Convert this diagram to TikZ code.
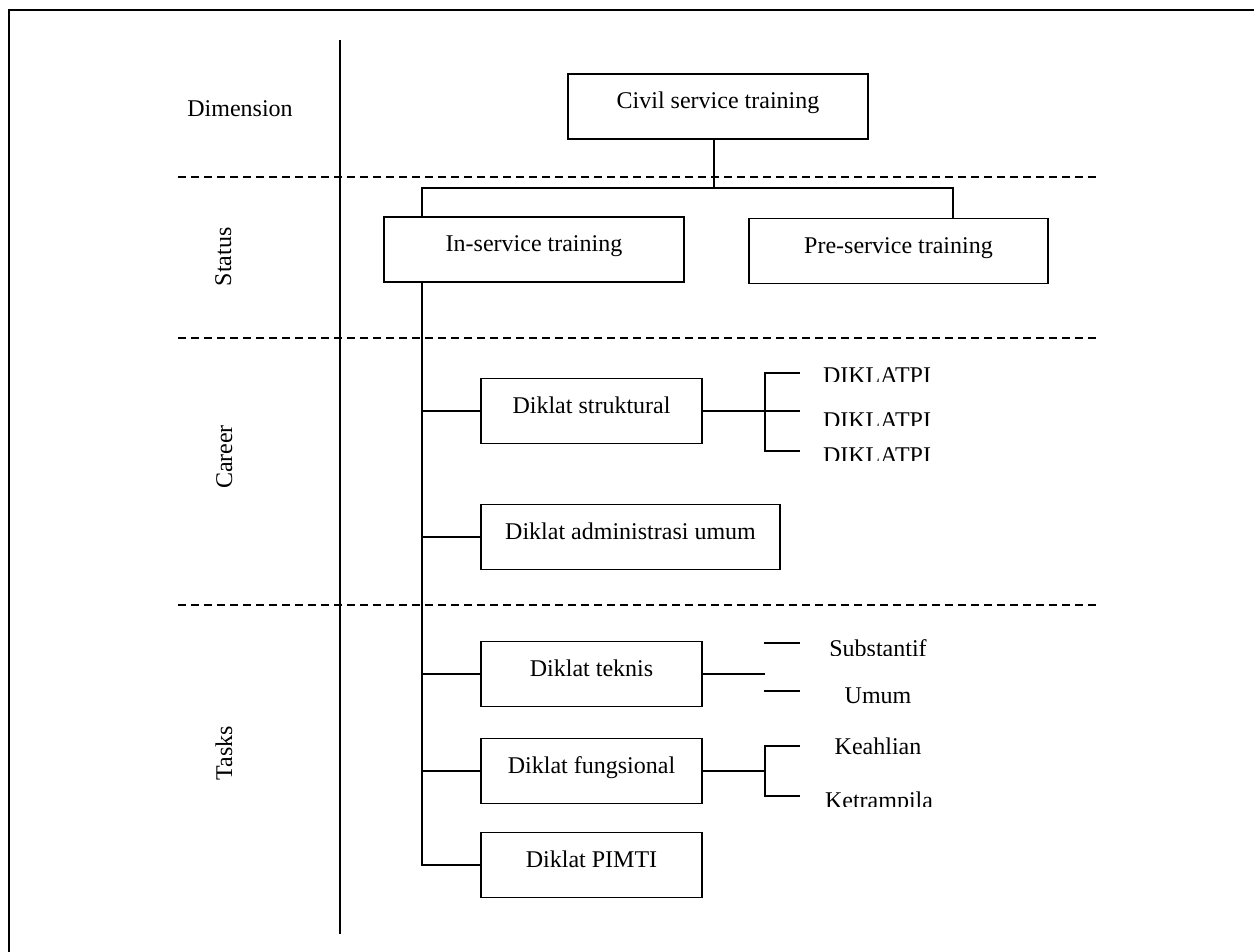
\documentclass[tikz,border=0pt]{standalone}
\usepackage{fontspec}
\setmainfont{Liberation Serif}
\begin{document}
\begin{tikzpicture}[x=1pt,y=-1pt,
  box/.style={draw, line width=1.8pt, rectangle, inner sep=0pt, minimum height=65pt,
    text height=35pt, text depth=30pt, font=\fontsize{24}{28}\selectfont},
  conn/.style={line width=1.8pt},
  sepline/.style={line width=1.7pt, dash pattern=on 8pt off 5pt},
  lbl/.style={inner sep=0pt, anchor=base, font=\fontsize{24}{28}\selectfont},
  dimlbl/.style={inner sep=0pt, anchor=base, rotate=90, font=\fontsize{24}{28}\selectfont}]
\useasboundingbox (0,0) rectangle (1254,952);
\fill[white] (0,0) rectangle (1254,952);
% outer frame (only left and top edges visible)
\coordinate (fbl) at (9,952);
\coordinate (ftl) at (9,10);
\coordinate (ftr) at (1254,10);
\draw[line width=2.2pt] (fbl) -- (ftl) -- (ftr);
% vertical divider
\coordinate (vtop) at (340,40);
\coordinate (vbot) at (340,934);
\draw[conn] (vtop) -- (vbot);
% dashed separators
\coordinate (h1a) at (178,177); \coordinate (h1b) at (1098,177);
\coordinate (h2a) at (178,338); \coordinate (h2b) at (1098,338);
\coordinate (h3a) at (178,605); \coordinate (h3b) at (1098,605);
\draw[sepline] (h1a) -- (h1b);
\draw[sepline] (h2a) -- (h2b);
\draw[sepline] (h3a) -- (h3b);
% dimension labels
\node[lbl] (dim) at (240,117) {Dimension};
\node[dimlbl] (status) at (231,257) {Status};
\node[dimlbl] (career) at (232,457) {Career};
\node[dimlbl] (tasks) at (232,753) {Tasks};
% boxes
\node[box, minimum width=300pt] (civil) at (718,106.5) {Civil service training};
\node[box, minimum width=300pt] (in) at (534,249.5) {In-service training};
\node[box, minimum width=299pt] (pre) at (898.5,251) {Pre-service training};
\node[box, minimum width=221pt] (struk) at (591.5,411) {Diklat struktural};
\node[box, minimum width=299pt] (admin) at (630.5,537) {Diklat administrasi umum};
\node[box, minimum width=221pt] (teknis) at (591.5,674) {Diklat teknis};
\node[box, minimum width=221pt] (fung) at (591.5,771) {Diklat fungsional};
\node[box, minimum width=221pt] (pimti) at (591.5,865) {Diklat PIMTI};
% top connectors
\coordinate (j) at (714,188);
\coordinate (trunkx) at (422,0);
\coordinate (prex) at (953,0);
\draw[conn] (j |- civil.south) -- (j);
\draw[conn] (trunkx |- in.north) |- (j) -| (prex |- pre.north);
% trunk
\draw[conn] (trunkx |- in.south) -- (trunkx |- pimti.west) -- (pimti.west);
\draw[conn] (trunkx |- struk.west) -- (struk.west);
\draw[conn] (trunkx |- admin.west) -- (admin.west);
\draw[conn] (trunkx |- teknis.west) -- (teknis.west);
\draw[conn] (trunkx |- fung.west) -- (fung.west);
% right branches
\coordinate (bx) at (765,0);
\coordinate (sx) at (800,0);
\coordinate (d1) at (800,373);
\coordinate (d3) at (800,451);
\draw[conn] (struk.east) -- (struk.east -| sx);
\draw[conn] (d1) -| (bx |- d3) -- (d3);
\coordinate (s1a) at (764,643); \coordinate (s1b) at (800,643);
\coordinate (s2a) at (764,691); \coordinate (s2b) at (800,691);
\draw[conn] (teknis.east) -- (teknis.east -| bx);
\draw[conn] (s1a) -- (s1b);
\draw[conn] (s2a) -- (s2b);
\coordinate (k1) at (800,746);
\coordinate (k2) at (800,796);
\draw[conn] (fung.east) -- (fung.east -| bx);
\draw[conn] (k1) -| (bx |- k2) -- (k2);
% right labels (clipped at the bottom as in the original)
\begin{scope}\clip (810,355) rectangle (950,381.5);
  \node[lbl] (p1) at (877,383) {DIKLATPI};\end{scope}
\begin{scope}\clip (810,400) rectangle (950,425);
  \node[lbl] (p2) at (877,428) {DIKLATPI};\end{scope}
\begin{scope}\clip (810,436) rectangle (950,460.5);
  \node[lbl] (p3) at (877,463) {DIKLATPI};\end{scope}
\begin{scope}\clip (810,625) rectangle (950,655);
  \node[lbl] (sub) at (878,656) {Substantif};\end{scope}
\node[lbl] (umum) at (878,703.5) {Umum};
\begin{scope}\clip (810,725) rectangle (950,754);
  \node[lbl] (keah) at (878,754) {Keahlian};\end{scope}
\begin{scope}\clip (810,780) rectangle (950,806.5);
  \node[lbl] (ketr) at (879,808) {Ketrampila};\end{scope}
\end{tikzpicture}
\end{document}
